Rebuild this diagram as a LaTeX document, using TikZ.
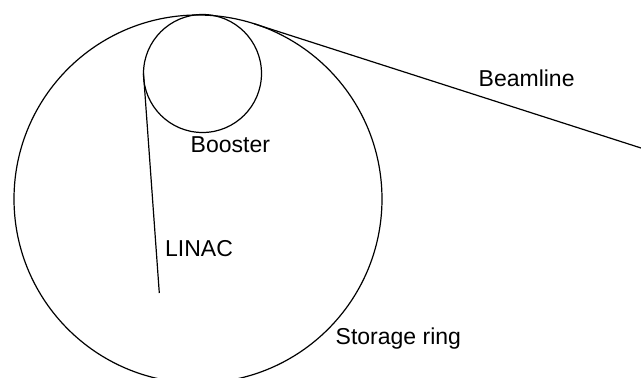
\documentclass[tikz,border=0pt]{standalone}
\usepackage{fontspec}
\setmainfont{Liberation Sans}
\usetikzlibrary{calc}
\begin{document}
\begin{tikzpicture}[x=1pt,y=1pt,
  ringline/.style={draw, circle, line width=1.2pt, inner sep=0pt, outer sep=0pt},
  beam/.style={line width=1.2pt},
  lbl/.style={anchor=base west, inner sep=0pt, font=\fontsize{23}{27}\selectfont}]
\useasboundingbox (0,0) rectangle (641,378);
\clip (0,0) rectangle (641,378);
\node[ringline, minimum size=368pt] (ring) at (198,179) {};
\node[ringline, minimum size=118pt] (boost) at (202.5,304.5) {};
\coordinate (bltan) at (254.2,354.2);
\coordinate (blend) at (641,230);
\coordinate (linacend) at (159.3,85);
\draw[beam] (bltan) -- (blend);
\draw[beam] (boost.west) -- (linacend);
\node[lbl] (tbeam) at (478.5,291.3) {Beamline};
\node[lbl] (tboost) at (190.5,225.3) {Booster};
\node[lbl] (tlinac) at (165,121.3) {LINAC};
\node[lbl] (tring) at (335.5,33) {Storage ring};
\end{tikzpicture}
\end{document}
